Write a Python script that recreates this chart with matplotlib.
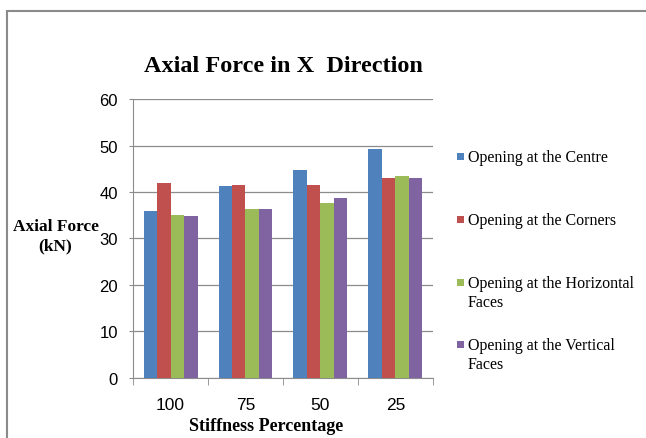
import numpy as np
import matplotlib.pyplot as plt
from matplotlib.patches import Rectangle

# ============================================================
# DATA
# ============================================================
categories = ["100", "75", "50", "25"]
series_names = [
    "Opening at the Centre",
    "Opening at the Corners",
    "Opening at the Horizontal\nFaces",
    "Opening at the Vertical\nFaces",
]
centre     = [36.0, 41.4, 44.8, 49.3]
corners    = [41.9, 41.6, 41.6, 43.1]
horizontal = [35.0, 36.3, 37.7, 43.4]
vertical   = [34.8, 36.3, 38.8, 43.1]
series = [centre, corners, horizontal, vertical]
colors = ["#4F81BD", "#C0504D", "#9BBB59", "#8064A2"]

serif = ["Liberation Serif", "DejaVu Serif"]
sans = ["Liberation Sans", "DejaVu Sans"]

# ============================================================
# PLOT
# ============================================================
fig = plt.figure(figsize=(6.46, 4.39), dpi=100)
ax = fig.add_axes([0.206, 0.137, 0.464, 0.635])

x = np.arange(len(categories))
bw = 0.18
for i, (vals, col) in enumerate(zip(series, colors)):
    ax.bar(x + (i - 1.5) * bw, vals, width=bw, color=col,
           label=series_names[i], zorder=3)

ax.set_xlim(-0.5, len(categories) - 0.5)
ax.set_ylim(0, 60)
ax.set_yticks(np.arange(0, 61, 10))
ax.grid(axis="y", color="#8c8c8c", lw=0.9, zorder=0)

ax.set_xticks(x)
ax.set_xticklabels(categories, fontfamily=sans, fontsize=12.5)
ax.tick_params(axis="x", which="major", length=0, pad=14)
ax.set_xticks(np.arange(-0.5, len(categories), 1.0), minor=True)
ax.tick_params(axis="x", which="minor", length=5, color="#8c8c8c")
ax.tick_params(axis="y", length=3, color="#8c8c8c", pad=8)
for lbl in ax.get_yticklabels():
    lbl.set_fontfamily(sans)
    lbl.set_fontsize(12)

for side in ["top", "right"]:
    ax.spines[side].set_visible(False)
for side in ["left", "bottom"]:
    ax.spines[side].set_color("#8c8c8c")

ax.set_title("Axial Force in X  Direction", fontfamily=serif,
             fontweight="bold", fontsize=17.5, pad=20)
ax.set_xlabel("Stiffness Percentage", fontfamily=serif,
              fontweight="bold", fontsize=13)
ax.xaxis.set_label_coords(0.445, -0.172)
ax.xaxis.label.set_va("center")
fig.text(0.086, 0.461, "Axial Force\n(kN)", fontfamily=serif,
         fontweight="bold", fontsize=12.5, ha="center", va="center",
         linespacing=1.3)

# legend, drawn the way the spreadsheet places it
leg_x = 468 / 646
leg_y = [157, 220, 283, 345]   # centre of the first text line, px from top
for name, col, yp in zip(series_names, colors, leg_y):
    yf = 1 - yp / 439
    fig.text(leg_x, yf + 0.016, name, fontfamily=serif, fontsize=11.5,
             ha="left", va="top", linespacing=1.25)
    fig.add_artist(Rectangle((457 / 646, yf - 3.5 / 439), 7 / 646, 7 / 439,
                             transform=fig.transFigure, color=col, lw=0))

# outer chart frame (cut off at right and bottom)
fig.add_artist(Rectangle((0.011, -0.2), 1.3, 0.9727 + 0.2,
                         transform=fig.transFigure, fill=False,
                         edgecolor="#8a8a8a", lw=1.5, clip_on=False))

plt.savefig("out.png", dpi=100)
